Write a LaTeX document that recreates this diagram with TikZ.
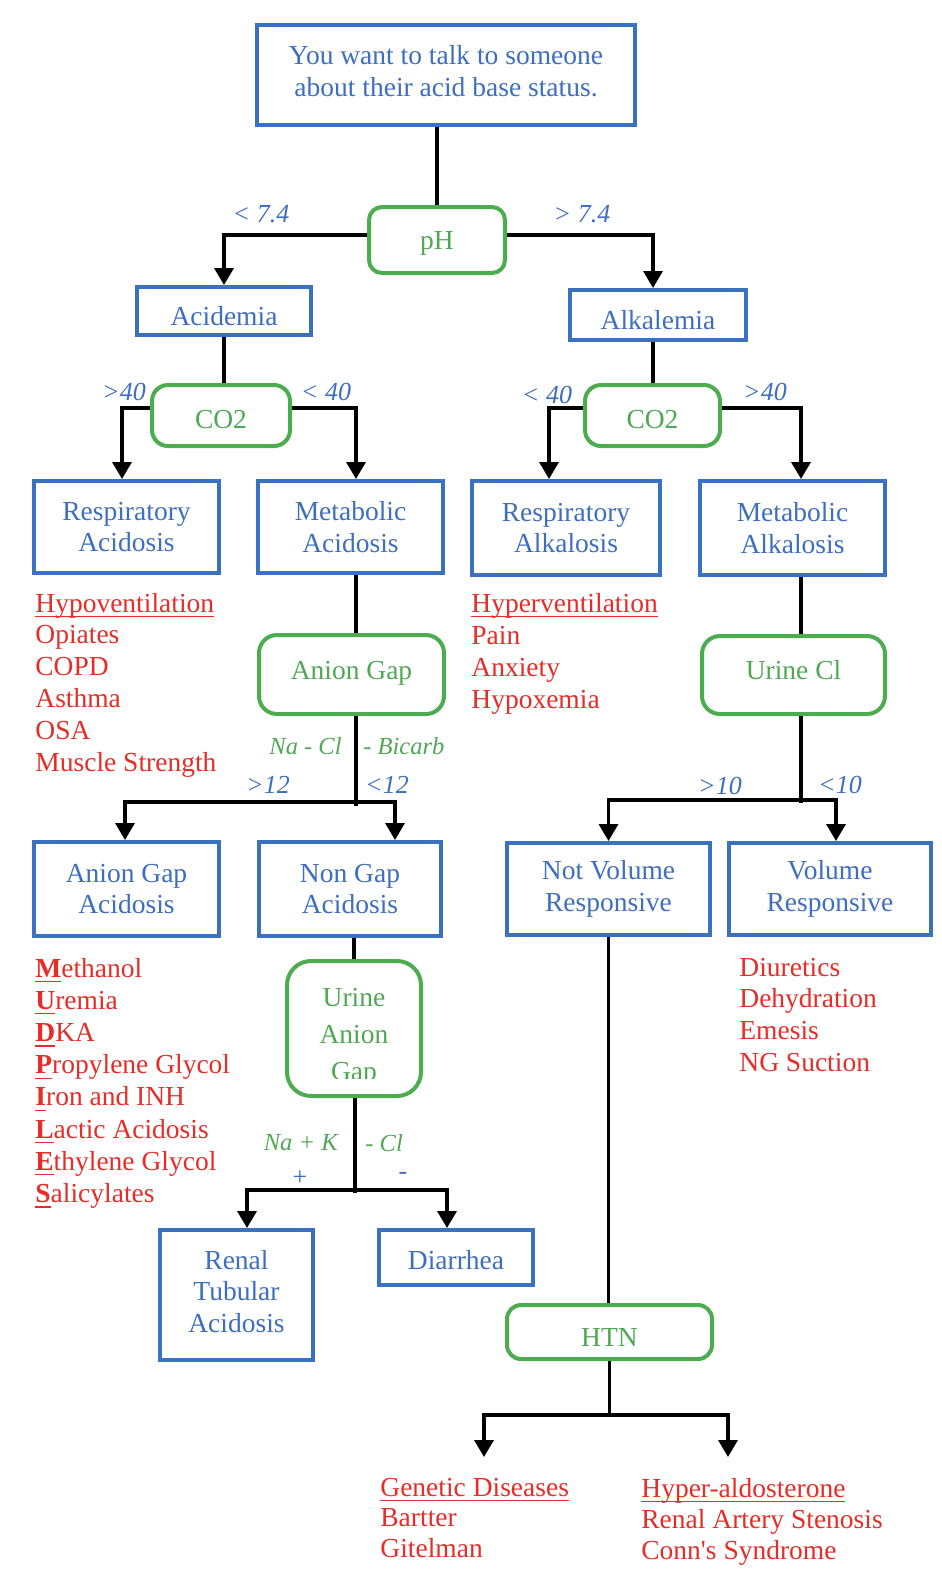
\documentclass[tikz,border=0pt]{standalone}
\usepackage{fontspec}
\setmainfont{Liberation Serif}
\usetikzlibrary{arrows.meta,calc}

\definecolor{boxblue}{RGB}{59,113,193}
\definecolor{txtblue}{RGB}{62,110,190}
\definecolor{boxgreen}{RGB}{76,173,80}
\definecolor{txtgreen}{RGB}{80,168,84}
\definecolor{causered}{RGB}{230,45,40}

% underline that sits just below the baseline, crossing descenders
\newcommand\redline[1]{\setbox0=\hbox{#1}\rlap{\rule[-2.6pt]{\wd0}{0.6pt}}\box0}
% single-line label whose baseline lies #1 below the node centre
\newcommand\basedrop[2]{\raisebox{-#1}[0pt][0pt]{#2}}

\tikzset{
  txtbase/.style={inner sep=0pt, align=center, font=\fontsize{13.75pt}{15.75pt}\selectfont},
  outcome/.style n args={2}{txtbase, draw=boxblue, line width=2pt, text=txtblue,
    minimum width={(#1-4)*0.5pt}, minimum height={(#2-4)*0.5pt}},
  decision/.style n args={3}{txtbase, draw=boxgreen, line width=2pt, text=txtgreen,
    rounded corners=#3, minimum width={(#1-4)*0.5pt}, minimum height={(#2-4)*0.5pt}},
  wire/.style={line width=1.75pt, line join=miter},
  flowarrow/.style={wire, -{Triangle[width=9.5pt,length=8.5pt]}},
  cond/.style={txtbase, text=txtblue, font=\fontsize{13pt}{15pt}\selectfont\itshape},
  formula/.style={txtbase, text=txtgreen, font=\fontsize{12.25pt}{14pt}\selectfont\itshape},
  cause/.style={txtbase, anchor=base west, text=causered, align=left},
}

\begin{document}
\begin{tikzpicture}[x=0.5pt,y=-0.5pt]
\fill[white] (0,0) rectangle (942,1592);
\useasboundingbox (0,0) rectangle (942,1592);

% ---- boxes ----
\node[outcome={382}{104}] (top) at (446,75) {You want to talk to someone\\about their acid base status.\rule[-4pt]{0pt}{4pt}};
\node[decision={140}{70}{6.5pt}] (ph) at (437,240) {\basedrop{4.5pt}{pH}};
\node[outcome={178}{52}] (acid) at (224,311) {\basedrop{7.25pt}{Acidemia}};
\node[outcome={180}{54}] (alk) at (658,315) {\basedrop{7pt}{Alkalemia}};
\node[decision={142}{65}{8pt}] (co2l) at (221,415.5) {\basedrop{6.5pt}{CO2}};
\node[decision={139}{65}{8pt}] (co2r) at (652.5,415.5) {\basedrop{6.25pt}{CO2}};
\node[outcome={189}{96}] (ra) at (126.5,527) {Respiratory\\Acidosis};
\node[outcome={189}{96}] (ma) at (350.5,527) {Metabolic\\Acidosis};
\node[outcome={192}{98}] (ralk) at (566,528) {Respiratory\\Alkalosis};
\node[outcome={189}{98}] (malk) at (792.5,528) {Metabolic\\Alkalosis};
\node[decision={189}{83}{9pt}] (ag) at (351.5,674.5) {\basedrop{2.5pt}{Anion Gap}};
\node[decision={187}{82}{9pt}] (uc) at (793.5,675) {\basedrop{2.25pt}{Urine Cl}};
\node[outcome={189}{98}] (aga) at (126.5,889) {Anion Gap\\Acidosis};
\node[outcome={186}{98}] (nga) at (350,889) {Non Gap\\Acidosis};
\node[outcome={207}{96}] (nvr) at (608.5,889) {Not Volume\\Responsive};
\node[outcome={206}{96}] (vr) at (830,889) {Volume\\Responsive};
\node[decision={138}{139}{12pt}] (uag) at (354,1028.5) {};
\begin{scope}
  \clip (uag.north west) rectangle ([yshift=10pt]uag.south east);
  \node[txtbase, text=txtgreen, font=\fontsize{13.75pt}{18.5pt}\selectfont] (uagtext) at (354,1037) {Urine\\Anion\\Gap};
\end{scope}
\node[outcome={157}{134}] (rta) at (236.5,1295) {Renal\\Tubular\\Acidosis\rule[-4pt]{0pt}{4pt}};
\node[outcome={158}{59}] (dia) at (456,1257.5) {\basedrop{5.75pt}{Diarrhea}};
\node[decision={209}{58}{7pt}] (htn) at (609.5,1332) {\basedrop{7pt}{HTN}};

% ---- junctions and free arrow ends ----
\coordinate (agj) at (356,802);
\coordinate (uagj) at (355,1190);
\coordinate (ucj) at (801,800);
\coordinate (htnj) at (609.5,1415);
\coordinate (gentip) at (484,1457);
\coordinate (hyptip) at (728,1457);

% ---- connectors ----
\draw[wire] (top.south -| ph.north) -- (ph.north);
\draw[flowarrow] ([yshift=2.5pt]ph.west) -| (acid.north);
\draw[flowarrow] ([yshift=2.5pt]ph.east) -| ([xshift=-2.5pt]alk.north);

\draw[wire] (acid.south) -- (acid.south |- co2l.north);
\draw[flowarrow] ([yshift=3.75pt]co2l.west) -| ([xshift=-2.25pt]ra.north);
\draw[flowarrow] ([yshift=3.75pt]co2l.east) -| ([xshift=2.75pt]ma.north);

\draw[wire] ([xshift=-2.5pt]alk.south) -- ([xshift=-2.5pt]alk.south |- co2r.north);
\draw[flowarrow] ([yshift=3.75pt]co2r.west) -| ([xshift=-8.5pt]ralk.north);
\draw[flowarrow] ([yshift=3.75pt]co2r.east) -| ([xshift=4.25pt]malk.north);

\draw[wire] ([xshift=2.75pt]ma.south) -- ([xshift=2.75pt]ma.south |- ag.north);
\draw[wire] (ag.south -| agj) -- ([yshift=-2pt]agj);
\draw[flowarrow] (agj) -| ([xshift=-0.75pt]aga.north);
\draw[flowarrow] (agj) -| ([xshift=22.5pt]nga.north);

\draw[wire] (uag.north |- nga.south) -- (uag.north);
\draw[wire] (uag.south -| uagj) -- ([yshift=-1.5pt]uagj);
\draw[flowarrow] (uagj) -| ([xshift=5.25pt]rta.north);
\draw[flowarrow] (uagj) -| ([xshift=-4.5pt]dia.north);

\draw[wire] ([xshift=4.25pt]malk.south) -- ([xshift=4.25pt]malk.south |- uc.north);
\draw[wire] (uc.south -| ucj) -- ([yshift=-1.5pt]ucj);
\draw[flowarrow] (ucj) -| (nvr.north);
\draw[flowarrow] (ucj) -| ([xshift=3pt]vr.north);

\draw[wire] (nvr.south) -- (nvr.south |- htn.north);
\draw[wire] (htn.south -| htnj) -- (htnj);
\draw[flowarrow] (htnj) -| (gentip);
\draw[flowarrow] (htnj) -| (hyptip);

% ---- branch conditions ----
\node[cond] (c1) at (261,214) {< 7.4};
\node[cond] (c2) at (582,214) {> 7.4};
\node[cond] (c3) at (124,392) {>40};
\node[cond] (c4) at (326,392) {< 40};
\node[cond] (c5) at (547,395) {< 40};
\node[cond] (c6) at (765,392) {>40};
\node[formula, anchor=east] (f1) at (342,746) {Na - Cl};
\node[formula, anchor=west] (f2) at (363,746) {- Bicarb};
\node[cond] (c7) at (268,785) {>12};
\node[cond] (c8) at (387,785) {<12};
\node[cond] (c9) at (720,786) {>10};
\node[cond] (c10) at (840,785) {<10};
\node[formula, anchor=east] (f3) at (338,1143) {Na + K};
\node[formula, anchor=west] (f4) at (365,1143) {- Cl};
\node[cond, font=\fontsize{13pt}{15pt}\selectfont] (c11) at (300,1178) {+};
\node[cond, font=\fontsize{13pt}{15pt}\selectfont] (c12) at (403,1176) {-};

% ---- causes ----
\foreach \t [count=\i from 0] in {{\redline{Hypoventilation}},Opiates,COPD,Asthma,OSA,Muscle Strength}
  \node[cause] (rac-\i) at (35,{612+31.8*\i}) {\t};
\foreach \t [count=\i from 0] in {{\redline{Hyperventilation}},Pain,Anxiety,Hypoxemia}
  \node[cause] (ralc-\i) at (471,{612+32*\i}) {\t};
\foreach \t [count=\i from 0] in {{\redline{\textbf{M}}ethanol},{\redline{\textbf{U}}remia},{\redline{\textbf{D}}KA},{\redline{\textbf{P}}ropylene Glycol},{\redline{\textbf{I}}ron and INH},{\redline{\textbf{L}}actic Acidosis},{\redline{\textbf{E}}thylene Glycol},{\redline{\textbf{S}}alicylates}}
  \node[cause] (agc-\i) at (35,{977+32.2*\i}) {\t};
\foreach \t [count=\i from 0] in {Diuretics,Dehydration,Emesis,NG Suction}
  \node[cause] (vrc-\i) at (739,{976+31.8*\i}) {\t};
\foreach \t [count=\i from 0] in {{\redline{Genetic Diseases}},Bartter,Gitelman}
  \node[cause] (genc-\i) at (380,{1496+30.5*\i}) {\t};
\foreach \t [count=\i from 0] in {{\redline{Hyper-aldosterone}},Renal Artery Stenosis,Conn\textquotesingle s Syndrome}
  \node[cause] (hypc-\i) at (641,{1497+31*\i}) {\t};
\end{tikzpicture}
\end{document}
